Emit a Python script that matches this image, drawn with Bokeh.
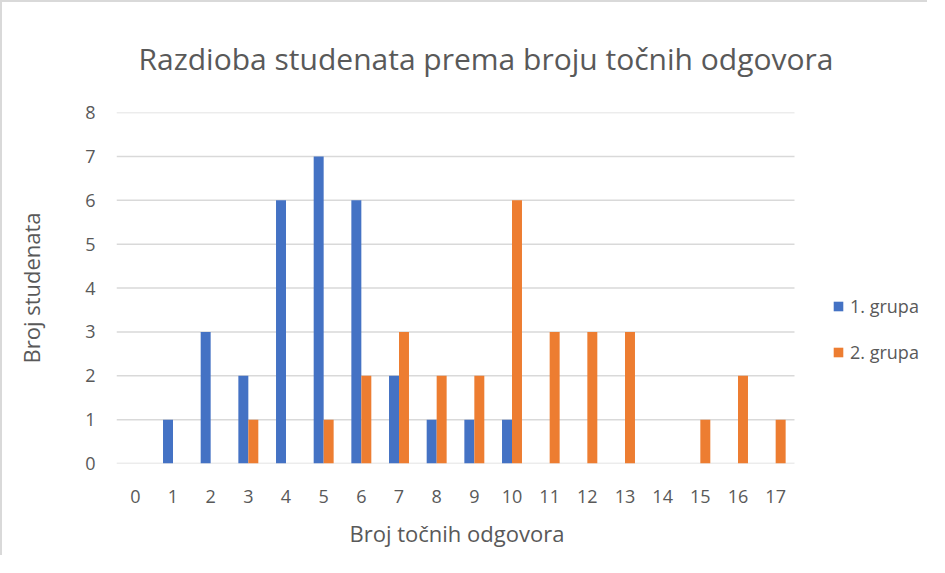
from bokeh.plotting import figure
from bokeh.models import ColumnDataSource, FixedTicker, Legend, LegendItem, Title
from bokeh.transform import dodge
from bokeh.embed import file_html
from bokeh.resources import INLINE

# ---- data ----
categories = list(range(0, 18))
grupa1 = [0, 1, 3, 2, 6, 7, 6, 2, 1, 1, 1, 0, 0, 0, 0, 0, 0, 0]
grupa2 = [0, 0, 0, 1, 0, 1, 2, 3, 2, 2, 6, 3, 3, 3, 0, 1, 2, 1]
series_names = ["1. grupa", "2. grupa"]
y_ticks = list(range(0, 9))
title_text = "Razdioba studenata prema broju točnih odgovora"
x_label = "Broj točnih odgovora"
y_label = "Broj studenata"

BLUE = "#4472C4"
ORANGE = "#ED7D31"
TEXT = "#595959"
GRID = "#D9D9D9"
FONT = "Open Sans"

# layout: the bar area spans 678 px for the 18 categories; the frame is
# widened to the right so the legend (outside the bar area) is not clipped
W, H = 927, 555
LEFT, RIGHT, TOP, BOTTOM = 114, 5, 107, 93
bar_px = 678
frame_px = W - LEFT - RIGHT
x0 = categories[0] - 0.5
x1_bars = categories[-1] + 0.5
x_end = x0 + (x1_bars - x0) * frame_px / bar_px

src = ColumnDataSource(dict(x=categories, g1=grupa1, g2=grupa2))
grid_src = ColumnDataSource(dict(y=y_ticks, xs=[x0] * len(y_ticks), xe=[x1_bars] * len(y_ticks)))

p = figure(width=W, height=H, output_backend="svg", toolbar_location=None,
           x_range=(x0, x_end), y_range=(y_ticks[0], y_ticks[-1]),
           min_border_left=LEFT, min_border_right=RIGHT,
           min_border_top=TOP, min_border_bottom=BOTTOM)
p.styles = {"border-left": "2px solid #d9d9d9", "border-top": "2px solid #d9d9d9"}
p.outline_line_color = None
p.background_fill_color = "white"
p.border_fill_color = "white"

# horizontal gridlines restricted to the bar area
p.segment(x0="xs", x1="xe", y0="y", y1="y", source=grid_src,
          line_color=GRID, line_width=1.5, level="underlay")

bw = 0.265
r1 = p.vbar(x=dodge("x", -bw / 2, range=p.x_range), top="g1", width=bw,
            source=src, fill_color=BLUE, line_color=None)
r2 = p.vbar(x=dodge("x", bw / 2, range=p.x_range), top="g2", width=bw,
            source=src, fill_color=ORANGE, line_color=None)

# title
p.title.text = title_text
p.title.align = "left"
p.title.text_font = FONT
p.title.text_font_size = "30px"
p.title.text_font_style = "normal"
p.title.text_color = TEXT
p.title.offset = 22
p.title.standoff = 67

# axes
p.xaxis.ticker = FixedTicker(ticks=categories)
p.yaxis.ticker = FixedTicker(ticks=y_ticks)
for ax in (p.xaxis[0], p.yaxis[0]):
    ax.axis_line_color = None
    ax.major_tick_line_color = None
    ax.minor_tick_line_color = None
    ax.major_label_text_font = FONT
    ax.major_label_text_font_size = "18px"
    ax.major_label_text_color = TEXT
    ax.axis_label_text_font = FONT
    ax.axis_label_text_font_size = "22px"
    ax.axis_label_text_font_style = "normal"
    ax.axis_label_text_color = TEXT

p.yaxis.axis_label = y_label
p.xaxis.major_label_standoff = 20
p.yaxis.major_label_standoff = 15
p.yaxis.axis_label_standoff = 36

# x-axis title, centred under the bar area
xt = Title(text=x_label, align="left", offset=233, standoff=20,
           text_font=FONT, text_font_size="22px", text_font_style="normal",
           text_color=TEXT)
p.add_layout(xt, "below")

p.xgrid.grid_line_color = None
p.ygrid.grid_line_color = None

legend = Legend(items=[LegendItem(label=series_names[0], renderers=[r1]),
                       LegendItem(label=series_names[1], renderers=[r2])],
                location=(716, 99), orientation="vertical")
legend.border_line_color = None
legend.background_fill_alpha = 0
legend.padding = 0
legend.margin = 0
legend.spacing = 22
legend.glyph_width = 12
legend.glyph_height = 12
legend.label_standoff = 6
legend.label_text_font = FONT
legend.label_text_font_size = "18px"
legend.label_text_color = TEXT
legend.label_height = 22
p.add_layout(legend, "center")

open("out.html", "w").write(file_html(p, INLINE))
